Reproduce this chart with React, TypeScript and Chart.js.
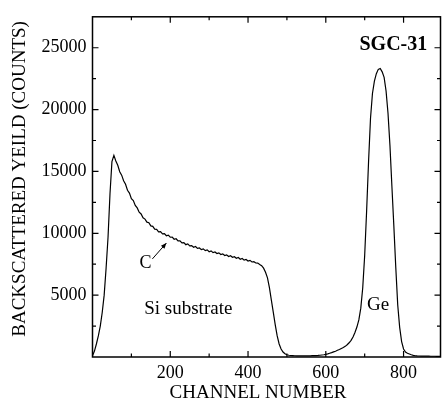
import { useEffect, useRef } from "react";
import { Chart, registerables } from "chart.js";

Chart.register(...registerables);

// Channel numbers (x) sampled every 5 channels
const channels = [
  0, 5, 10, 15, 20, 25, 30, 35, 40, 45, 50, 55, 60, 65, 70, 75, 80, 85, 90, 95,
  100, 105, 110, 115, 120, 125, 130, 135, 140, 145, 150, 155, 160, 165, 170, 175, 180, 185, 190, 195,
  200, 205, 210, 215, 220, 225, 230, 235, 240, 245, 250, 255, 260, 265, 270, 275, 280, 285, 290, 295,
  300, 305, 310, 315, 320, 325, 330, 335, 340, 345, 350, 355, 360, 365, 370, 375, 380, 385, 390, 395,
  400, 405, 410, 415, 420, 425, 430, 435, 440, 445, 450, 455, 460, 465, 470, 475, 480, 485, 490, 495,
  500, 505, 510, 515, 520, 525, 530, 535, 540, 545, 550, 555, 560, 565, 570, 575, 580, 585, 590, 595,
  600, 605, 610, 615, 620, 625, 630, 635, 640, 645, 650, 655, 660, 665, 670, 675, 680, 685, 690, 695,
  700, 705, 710, 715, 720, 725, 730, 735, 740, 745, 750, 755, 760, 765, 770, 775, 780, 785, 790, 795,
  800, 805, 810, 815, 820, 825, 830, 835, 840, 845, 850, 855, 860, 865, 870, 875, 880, 885, 890, 895,
];

// Backscattered yield (counts)
const counts = [
  100, 480, 1050, 1700, 2500, 3600, 5000, 7200, 9700, 13200, 15800, 16300, 15850, 15500, 14980, 14700, 14250, 13960, 13480, 13250,
  12800, 12650, 12250, 12050, 11700, 11560, 11250, 11150, 10900, 10850, 10600, 10560, 10330, 10320, 10120, 10130, 9950, 9980, 9800, 9850,
  9680, 9690, 9520, 9560, 9380, 9390, 9220, 9250, 9080, 9140, 8980, 9010, 8870, 8930, 8780, 8810, 8680, 8740, 8600, 8660,
  8510, 8580, 8440, 8490, 8360, 8420, 8280, 8340, 8200, 8260, 8120, 8190, 8060, 8110, 7980, 8040, 7900, 7960, 7830, 7880,
  7760, 7810, 7680, 7700, 7600, 7590, 7480, 7380, 7180, 6850, 6400, 5600, 4600, 3600, 2600, 1700, 1050, 650, 400, 260,
  180, 140, 120, 110, 100, 95, 100, 90, 95, 100, 90, 100, 95, 105, 110, 115, 125, 140, 160, 180,
  210, 250, 300, 350, 410, 470, 540, 610, 690, 770, 860, 990, 1150, 1350, 1620, 1980, 2420, 3000, 3950, 5600,
  8200, 11800, 15800, 19300, 21300, 22300, 22900, 23250, 23320, 23050, 22600, 21500, 19700, 17100, 13800, 10600, 7240, 4200, 2400, 1250,
  650, 400, 300, 240, 180, 130, 100, 85, 80, 75, 70, 70, 65, 65, 60, 60, 60, 55, 55, 55,
];

const xMajorTicks = [200, 400, 600, 800];
const xMinorTicks = [100, 300, 500, 700];
const yMajorTicks = [5000, 10000, 15000, 20000, 25000];
const yMinorTicks = [2500, 7500, 12500, 17500, 22500];

const xAxisTitle = "CHANNEL NUMBER";
const yAxisTitle = "BACKSCATTERED YEILD (COUNTS)";
const sampleLabel = "SGC-31";
const substrateLabel = "Si substrate";
const geLabel = "Ge";
const carbonLabel = "C";

const SERIF = '"Liberation Serif", "Times New Roman", serif';

export default function App() {
  const ref = useRef<HTMLCanvasElement>(null);

  useEffect(() => {
    const canvas = ref.current;
    if (!canvas) return;

    const framePlugin = {
      id: "frameAndNotes",
      afterDatasetsDraw(chart: any) {
        const { ctx, chartArea: a, scales } = chart;
        const xs = scales.x;
        const ys = scales.y;
        ctx.save();
        ctx.strokeStyle = "#000";
        ctx.lineWidth = 1.5;
        ctx.strokeRect(a.left, a.top, a.right - a.left, a.bottom - a.top);

        ctx.lineWidth = 1.2;
        ctx.beginPath();
        const xt = (vals: number[], len: number) => {
          vals.forEach((v) => {
            const px = xs.getPixelForValue(v);
            ctx.moveTo(px, a.bottom);
            ctx.lineTo(px, a.bottom - len);
            ctx.moveTo(px, a.top);
            ctx.lineTo(px, a.top + len);
          });
        };
        const yt = (vals: number[], len: number) => {
          vals.forEach((v) => {
            const py = ys.getPixelForValue(v);
            ctx.moveTo(a.left, py);
            ctx.lineTo(a.left + len, py);
            ctx.moveTo(a.right, py);
            ctx.lineTo(a.right - len, py);
          });
        };
        xt(xMajorTicks, 6);
        xt(xMinorTicks, 3.5);
        yt(yMajorTicks, 6);
        yt(yMinorTicks, 3.5);
        ctx.stroke();

        // axis titles
        ctx.fillStyle = "#000";
        ctx.font = `19px ${SERIF}`;
        ctx.textAlign = "center";
        ctx.textBaseline = "middle";
        ctx.fillText(xAxisTitle, (a.left + a.right) / 2 - 8.5, a.bottom + 36);
        ctx.save();
        ctx.translate(20, (a.top + a.bottom) / 2 - 8);
        ctx.rotate(-Math.PI / 2);
        ctx.fillText(yAxisTitle, 0, 0);
        ctx.restore();

        // annotations
        ctx.font = `bold 20px ${SERIF}`;
        ctx.textAlign = "right";
        ctx.fillText(sampleLabel, xs.getPixelForValue(861), ys.getPixelForValue(25250));
        ctx.font = `19px ${SERIF}`;
        ctx.textAlign = "left";
        ctx.fillText(substrateLabel, xs.getPixelForValue(133), ys.getPixelForValue(3850));
        ctx.fillText(geLabel, xs.getPixelForValue(706), ys.getPixelForValue(4170));
        ctx.font = `18px ${SERIF}`;
        ctx.textAlign = "center";
        ctx.fillText(carbonLabel, xs.getPixelForValue(136), ys.getPixelForValue(7540));

        // arrow to C feature
        const x0 = xs.getPixelForValue(154);
        const y0 = ys.getPixelForValue(7930);
        const x1 = xs.getPixelForValue(190);
        const y1 = ys.getPixelForValue(9210);
        ctx.lineWidth = 1;
        ctx.beginPath();
        ctx.moveTo(x0, y0);
        ctx.lineTo(x1, y1);
        ctx.stroke();
        const ang = Math.atan2(y1 - y0, x1 - x0);
        const hl = 6;
        ctx.beginPath();
        ctx.moveTo(x1, y1);
        ctx.lineTo(x1 - hl * Math.cos(ang - 0.4), y1 - hl * Math.sin(ang - 0.4));
        ctx.lineTo(x1 - hl * Math.cos(ang + 0.4), y1 - hl * Math.sin(ang + 0.4));
        ctx.closePath();
        ctx.fill();
        ctx.restore();
      },
    };

    const chart = new Chart(canvas, {
      type: "line",
      data: {
        datasets: [
          {
            data: channels.map((c, i) => ({ x: c, y: counts[i] })),
            borderColor: "#000",
            borderWidth: 1.2,
            pointRadius: 0,
            tension: 0,
            fill: false,
          },
        ],
      },
      options: {
        animation: false,
        responsive: true,
        maintainAspectRatio: false,
        layout: { padding: { top: 13.5, right: 1.5, left: 0, bottom: 0 } },
        plugins: { legend: { display: false }, tooltip: { enabled: false } },
        scales: {
          x: {
            type: "linear",
            min: 0,
            max: 895,
            afterBuildTicks: (s: any) => {
              s.ticks = xMajorTicks.map((v) => ({ value: v }));
            },
            afterFit: (s: any) => {
              s.height = 54;
            },
            grid: { display: false, drawTicks: false },
            border: { display: false },
            ticks: {
              color: "#000",
              font: { family: SERIF, size: 18 },
              padding: 5,
              maxRotation: 0,
              autoSkip: false,
              callback: (v: any) => String(v),
            },
          },
          y: {
            type: "linear",
            min: 0,
            max: 27500,
            afterBuildTicks: (s: any) => {
              s.ticks = yMajorTicks.map((v) => ({ value: v }));
            },
            afterFit: (s: any) => {
              s.width = 92.5;
            },
            grid: { display: false, drawTicks: false },
            border: { display: false },
            ticks: {
              color: "#000",
              font: { family: SERIF, size: 18 },
              padding: 6,
              autoSkip: false,
              callback: (v: any) => String(v),
            },
          },
        },
      },
      plugins: [framePlugin],
    });

    return () => chart.destroy();
  }, []);

  return (
    <div style={{ position: "absolute", left: 0, top: 0, width: 442, height: 411, background: "#fff" }}>
      <canvas ref={ref} />
    </div>
  );
}
